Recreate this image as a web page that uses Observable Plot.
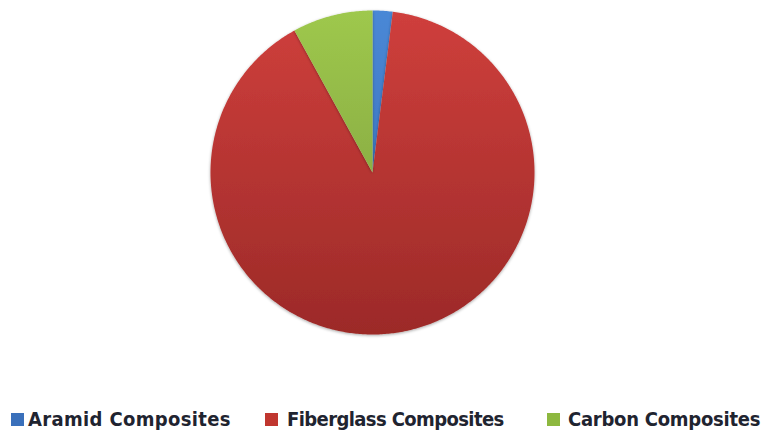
<!DOCTYPE html>
<html><head><meta charset="utf-8">
<script src="https://cdn.jsdelivr.net/npm/d3@7"></script>
<script src="https://cdn.jsdelivr.net/npm/@observablehq/plot@0.6"></script>
<style>
body{margin:0;background:#fff;width:763px;height:437px;overflow:hidden;position:relative;font-family:"DejaVu Sans Condensed","DejaVu Sans",sans-serif}
#chart{position:absolute;left:0;top:0}
.leg{position:absolute;top:408px;font-size:20px;line-height:23px;font-weight:bold;color:#1f2430;white-space:nowrap}
.sw{display:inline-block;width:13px;height:13px;vertical-align:baseline}
.leg:nth-child(1){left:11px;letter-spacing:0.35px}
.leg:nth-child(1) .sw{margin-right:4px}
.leg:nth-child(2){left:265px;letter-spacing:-0.6px}
.leg:nth-child(2) .sw{margin-right:9px}
.leg:nth-child(3){left:547px;letter-spacing:-0.25px}
.leg:nth-child(3) .sw{margin-right:8px}
</style></head><body>
<div id="chart"></div>
<div id="legend"></div>
<script>
const categories = ["Aramid Composites", "Fiberglass Composites", "Carbon Composites"];
const shares = [2, 90, 8];
const topColors = ["#4a88d6", "#cf3f3c", "#9ec84d"];
const bottomColors = ["#3468b0", "#9c2a28", "#7a983a"];
const legendColors = ["#3a70bb", "#c0362f", "#8db83f"];

const arcs = d3.pie().sort(null)(shares);
const rows = [];
arcs.forEach((a, i) => {
  const name = categories[i];
  rows.push({name, x: 0, y: 0});
  const n = Math.max(4, Math.ceil((a.endAngle - a.startAngle) / 0.01));
  for (let k = 0; k <= n; k++) {
    const t = a.startAngle + (a.endAngle - a.startAngle) * k / n;
    rows.push({name, x: Math.sin(t), y: Math.cos(t)});
  }
  rows.push({name, x: 0, y: 0});
});

const svg = Plot.plot({
  width: 763,
  height: 400,
  margin: 0,
  x: {domain: [-1, 1], range: [210, 534], axis: null},
  y: {domain: [-1, 1], range: [334, 10], axis: null},
  marks: categories.map((c, i) =>
    Plot.line(rows.filter(r => r.name === c), {x: "x", y: "y", fill: `url(#grad${i})`, stroke: "none", curve: "linear"})
  )
});

const ns = "http://www.w3.org/2000/svg";
const defs = document.createElementNS(ns, "defs");
categories.forEach((c, i) => {
  const g = document.createElementNS(ns, "linearGradient");
  g.setAttribute("id", `grad${i}`);
  g.setAttribute("gradientUnits", "userSpaceOnUse");
  g.setAttribute("x1", 0); g.setAttribute("x2", 0);
  g.setAttribute("y1", 10); g.setAttribute("y2", 334);
  const s1 = document.createElementNS(ns, "stop");
  s1.setAttribute("offset", "0"); s1.setAttribute("stop-color", topColors[i]);
  const s2 = document.createElementNS(ns, "stop");
  s2.setAttribute("offset", "1"); s2.setAttribute("stop-color", bottomColors[i]);
  g.appendChild(s1); g.appendChild(s2);
  defs.appendChild(g);
});
const f = document.createElementNS(ns, "filter");
f.setAttribute("id", "shadow");
f.setAttribute("x", "-10%"); f.setAttribute("y", "-10%");
f.setAttribute("width", "120%"); f.setAttribute("height", "120%");
const ds = document.createElementNS(ns, "feDropShadow");
ds.setAttribute("dx", "0"); ds.setAttribute("dy", "1");
ds.setAttribute("stdDeviation", "1.5");
ds.setAttribute("flood-color", "#000"); ds.setAttribute("flood-opacity", "0.35");
f.appendChild(ds);
defs.appendChild(f);
svg.insertBefore(defs, svg.firstChild);
svg.querySelectorAll('g[aria-label="line"]').forEach(g => g.setAttribute("filter", "url(#shadow)"));
document.getElementById("chart").appendChild(svg);

const legend = document.getElementById("legend");
categories.forEach((c, i) => {
  const item = document.createElement("div");
  item.className = "leg";
  const sw = document.createElement("span");
  sw.className = "sw";
  sw.style.background = legendColors[i];
  const tx = document.createElement("span");
  tx.textContent = c;
  item.appendChild(sw); item.appendChild(tx);
  legend.appendChild(item);
});
</script>
</body></html>
